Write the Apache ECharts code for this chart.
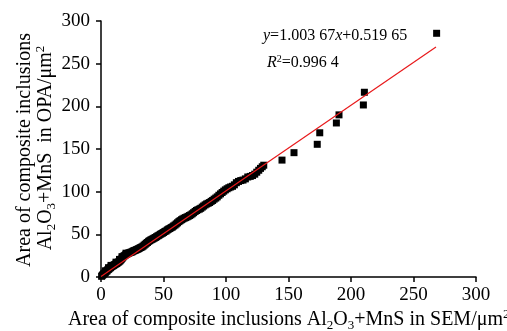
<!DOCTYPE html>
<html>
<head>
<meta charset="utf-8">
<script src="https://cdn.jsdelivr.net/npm/echarts@6/dist/echarts.min.js"></script>
<style>html,body{margin:0;padding:0;background:#fff;}#c{width:507px;height:331px;}</style>
</head>
<body>
<div id="c"></div>
<script>
// SEM area (x) vs OPA area (y), um^2
var clusterPoints = [
[0.5,0.8],[1.0,1.9],[1.5,2.6],[2.0,3.5],[2.6,3.9],[3.1,5.0],[3.7,5.6],[4.2,6.8],[4.8,7.1],[5.3,8.3],
[5.9,8.9],[6.4,9.6],[7.0,10.4],[7.6,11.0],[8.1,11.9],[8.7,12.3],[9.3,13.1],[9.9,13.4],[10.5,14.2],[11.1,14.6],
[11.8,15.3],[12.4,15.8],[13.0,16.4],[13.7,17.2],[14.3,17.9],[15.0,18.7],[15.7,19.8],[16.3,20.9],[17.0,22.1],[17.6,23.4],
[18.3,24.6],[19.0,25.3],[19.7,26.1],[20.4,26.8],[21.1,27.2],[21.9,27.9],[22.6,28.3],[23.4,28.8],[24.2,29.1],[25.0,29.6],
[25.8,30.4],[26.6,30.9],[27.4,31.3],[28.3,32.0],[29.1,32.5],[30.0,33.1],[30.9,33.8],[31.8,34.6],[32.7,35.2],[33.6,36.1],
[34.5,37.3],[35.4,38.4],[36.3,39.6],[37.2,40.5],[38.1,41.8],[39.0,42.6],[39.9,43.5],[40.8,44.1],[41.7,44.9],[42.6,45.6],
[43.5,46.3],[44.4,47.2],[45.4,48.1],[46.3,48.8],[47.3,49.9],[48.2,50.7],[49.2,51.4],[50.1,52.2],[51.1,53.3],[52.1,54.0],
[53.1,55.2],[54.1,56.1],[55.1,56.8],[56.1,57.9],[57.1,58.6],[58.1,59.8],[59.2,60.9],[60.2,62.2],[61.2,63.5],[62.3,64.9],
[63.3,66.0],[64.4,67.1],[65.4,68.0],[66.5,68.9],[67.6,69.6],[68.7,70.3],[69.7,71.1],[70.8,72.0],[71.9,72.9],[73.0,74.1],
[74.1,75.4],[75.3,76.8],[76.4,77.9],[77.5,78.8],[78.7,79.6],[79.8,80.5],[81.0,81.9],[82.1,83.2],[83.3,84.5],[84.5,85.6],
[85.7,86.4],[86.9,87.3],[88.1,88.6],[89.3,89.7],[90.5,91.2],[91.8,92.5],[93.0,93.9],[94.3,95.8],[95.6,97.4],[96.9,99.0],
[98.2,100.6],[99.5,102.1],[100.9,103.4],[102.3,104.6],[103.7,105.5],[105.2,106.3],[106.7,108.0],[108.3,110.5],[110.0,112.0],[111.8,113.0],
[113.6,113.6],[115.5,115.0],[117.4,117.2],[119.4,117.9],[121.2,118.9],[123.0,120.5],[124.6,122.8],[126.2,125.1],[127.6,127.3],[129.0,129.2],
[130.2,131.0],
[3.5,7.2],[8.0,13.6],[12.0,17.4],[16.8,23.8],[20.0,27.9],[14.8,20.6],[6.0,10.9]
];
var outlierPoints = [
[144.8,137.0],[154.4,145.7],[173.0,155.5],[175.0,169.0],[188.3,180.5],[190.4,190.0],[209.9,201.6],[210.7,216.5],[268.5,285.6]
];
var fitLine = [[0,0.52],[268,269.5]];
var xTicks = [0,50,100,150,200,250,300];
var yTicks = [0,50,100,150,200,250,300];

var FONT = 'Liberation Serif';
var chart = echarts.init(document.getElementById('c'), null, {renderer: 'canvas'});
function makeAxis(margin, ticks) {
  return {
    type: 'value',
    min: 0, max: 300, interval: 50,
    axisLine: {show: true, lineStyle: {color: '#000', width: 1.5}},
    axisTick: {show: true, inside: false, length: 5, lineStyle: {color: '#000', width: 1.5}},
    splitLine: {show: false},
    axisLabel: {
      color: '#000', fontFamily: FONT, fontSize: 19, margin: margin,
      formatter: function (v) { return ticks.indexOf(v) >= 0 ? String(v) : ''; }
    }
  };
}
var subRich = {
  n: {fontFamily: FONT, fontSize: 20, fill: '#000', lineHeight: 24},
  s: {fontFamily: FONT, fontSize: 13, fill: '#000', lineHeight: 13, verticalAlign: 'bottom'},
  p: {fontFamily: FONT, fontSize: 13, fill: '#000', lineHeight: 13, verticalAlign: 'top'}
};
chart.setOption({
  animation: false,
  backgroundColor: '#fff',
  grid: {left: 101, right: 31, top: 21, bottom: 54, containLabel: false},
  xAxis: makeAxis(9, xTicks),
  yAxis: makeAxis(11, yTicks),
  series: [
    {type: 'scatter', data: clusterPoints.concat(outlierPoints), symbol: 'rect', symbolSize: 7, itemStyle: {color: '#000', opacity: 1}, z: 2},
    {type: 'line', data: fitLine, symbol: 'none', lineStyle: {color: '#e8191b', width: 1.2}, z: 3}
  ],
  graphic: [
    {type: 'text', left: 263, top: 28, style: {
      text: '{i|y}{n|=1.003 67}{i|x}{n|+0.519 65}',
      rich: {i: {fontFamily: FONT, fontSize: 16, fontStyle: 'italic', fill: '#000'}, n: {fontFamily: FONT, fontSize: 16, fill: '#000'}}
    }},
    {type: 'text', left: 267, top: 54, style: {
      text: '{i|R}{s|2}{n|=0.996 4}',
      rich: {i: {fontFamily: FONT, fontSize: 16, fontStyle: 'italic', fill: '#000', lineHeight: 18}, s: {fontFamily: FONT, fontSize: 10, fill: '#000', lineHeight: 10, verticalAlign: 'top'}, n: {fontFamily: FONT, fontSize: 16, fill: '#000', lineHeight: 18}}
    }},
    {type: 'text', x: 25, y: 150, rotation: Math.PI / 2, style: {
      text: 'Area of composite inclusions', fontFamily: FONT, fontSize: 20, fill: '#000', align: 'center', verticalAlign: 'middle'
    }},
    {type: 'text', x: 46, y: 148, rotation: Math.PI / 2, style: {
      text: '{n|Al}{s|2}{n|O}{s|3}{n|+MnS  in OPA/μm}{p|2}',
      align: 'center', verticalAlign: 'middle', rich: subRich
    }},
    {type: 'text', x: 68, y: 320, style: {
      text: '{n|Area of composite inclusions Al}{s|2}{n|O}{s|3}{n|+MnS in SEM/μm}{p|2}',
      align: 'left', verticalAlign: 'middle', rich: subRich
    }}
  ]
});
</script>
</body>
</html>
